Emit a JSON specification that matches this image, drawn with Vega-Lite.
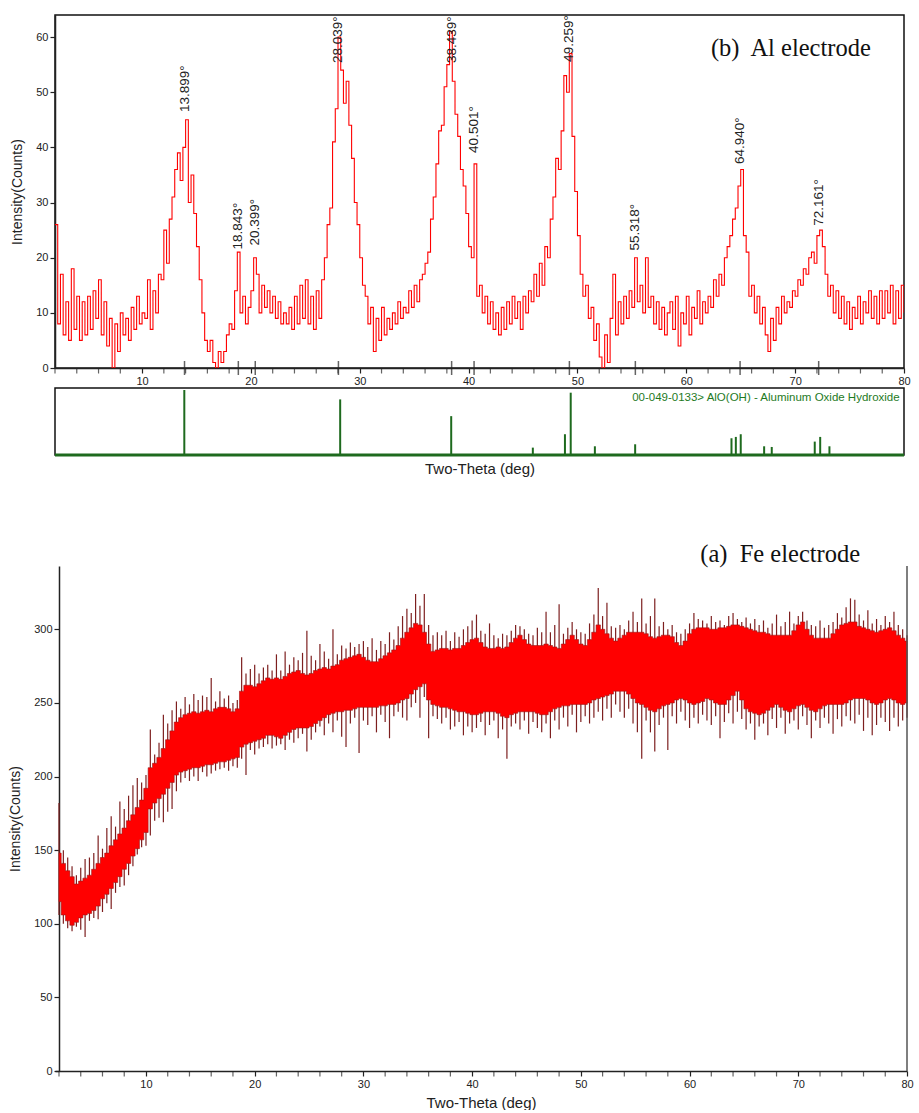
{
  "$schema": "https://vega.github.io/schema/vega-lite/v6.json",
  "background": "white",
  "padding": {"left": 8, "top": 14, "right": 0, "bottom": 0},
  "config": {
    "font": "Liberation Sans",
    "view": {"stroke": "#111", "strokeWidth": 1.5},
    "axis": {"labelFont": "Liberation Sans", "labelFontSize": 11, "labelColor": "#222", "tickColor": "#222", "domainColor": "#222", "titleFont": "Liberation Sans", "titleFontWeight": "normal", "titleColor": "#222", "grid": false, "tickSize": 5, "domainWidth": 1.5, "tickWidth": 1.2, "labelOverlap": false}
  },
  "datasets": {
    "minor_ticks": [
      {"deg":2},{"deg":4},{"deg":6},{"deg":8},{"deg":12},{"deg":14},{"deg":16},{"deg":18},{"deg":22},{"deg":24},{"deg":26},{"deg":28},{"deg":32},{"deg":34},{"deg":36},{"deg":38},
      {"deg":42},{"deg":44},{"deg":46},{"deg":48},{"deg":52},{"deg":54},{"deg":56},{"deg":58},{"deg":62},{"deg":64},{"deg":66},{"deg":68},{"deg":72},{"deg":74},{"deg":76},{"deg":78}
    ],
    "al": [
      {"deg":2.00,"counts":26},{"deg":2.25,"counts":8},{"deg":2.50,"counts":17},{"deg":2.75,"counts":6},{"deg":3.00,"counts":12},{"deg":3.25,"counts":5},{"deg":3.50,"counts":18},{"deg":3.75,"counts":7},
      {"deg":4.00,"counts":13},{"deg":4.25,"counts":5},{"deg":4.50,"counts":12},{"deg":4.75,"counts":6},{"deg":5.00,"counts":13},{"deg":5.25,"counts":7},{"deg":5.50,"counts":14},{"deg":5.75,"counts":9},
      {"deg":6.00,"counts":16},{"deg":6.25,"counts":6},{"deg":6.50,"counts":12},{"deg":6.75,"counts":4},{"deg":7.00,"counts":9},{"deg":7.25,"counts":0},{"deg":7.50,"counts":8},{"deg":7.75,"counts":3},
      {"deg":8.00,"counts":10},{"deg":8.25,"counts":6},{"deg":8.50,"counts":9},{"deg":8.75,"counts":5},{"deg":9.00,"counts":11},{"deg":9.25,"counts":7},{"deg":9.50,"counts":13},{"deg":9.75,"counts":8},
      {"deg":10.00,"counts":10},{"deg":10.25,"counts":9},{"deg":10.50,"counts":16},{"deg":10.75,"counts":7},{"deg":11.00,"counts":14},{"deg":11.25,"counts":10},{"deg":11.50,"counts":17},{"deg":11.75,"counts":16},
      {"deg":12.00,"counts":25},{"deg":12.25,"counts":19},{"deg":12.50,"counts":27},{"deg":12.75,"counts":31},{"deg":13.00,"counts":36},{"deg":13.25,"counts":39},{"deg":13.50,"counts":34},{"deg":13.75,"counts":40},
      {"deg":14.00,"counts":45},{"deg":14.25,"counts":30},{"deg":14.50,"counts":35},{"deg":14.75,"counts":28},{"deg":15.00,"counts":22},{"deg":15.25,"counts":16},{"deg":15.50,"counts":10},{"deg":15.75,"counts":5},
      {"deg":16.00,"counts":3},{"deg":16.25,"counts":5},{"deg":16.50,"counts":1},{"deg":16.75,"counts":0},{"deg":17.00,"counts":3},{"deg":17.25,"counts":1},{"deg":17.50,"counts":3},{"deg":17.75,"counts":6},
      {"deg":18.00,"counts":8},{"deg":18.25,"counts":7},{"deg":18.50,"counts":14},{"deg":18.75,"counts":21},{"deg":19.00,"counts":10},{"deg":19.25,"counts":13},{"deg":19.50,"counts":8},{"deg":19.75,"counts":11},
      {"deg":20.00,"counts":14},{"deg":20.25,"counts":20},{"deg":20.50,"counts":17},{"deg":20.75,"counts":10},{"deg":21.00,"counts":15},{"deg":21.25,"counts":11},{"deg":21.50,"counts":14},{"deg":21.75,"counts":10},
      {"deg":22.00,"counts":13},{"deg":22.25,"counts":9},{"deg":22.50,"counts":12},{"deg":22.75,"counts":8},{"deg":23.00,"counts":10},{"deg":23.25,"counts":8},{"deg":23.50,"counts":11},{"deg":23.75,"counts":7},
      {"deg":24.00,"counts":13},{"deg":24.25,"counts":8},{"deg":24.50,"counts":15},{"deg":24.75,"counts":9},{"deg":25.00,"counts":16},{"deg":25.25,"counts":8},{"deg":25.50,"counts":13},{"deg":25.75,"counts":7},
      {"deg":26.00,"counts":14},{"deg":26.25,"counts":9},{"deg":26.50,"counts":16},{"deg":26.75,"counts":20},{"deg":27.00,"counts":26},{"deg":27.25,"counts":29},{"deg":27.50,"counts":41},{"deg":27.75,"counts":47},
      {"deg":28.00,"counts":60},{"deg":28.25,"counts":54},{"deg":28.50,"counts":48},{"deg":28.75,"counts":52},{"deg":29.00,"counts":44},{"deg":29.25,"counts":38},{"deg":29.50,"counts":30},{"deg":29.75,"counts":26},
      {"deg":30.00,"counts":20},{"deg":30.25,"counts":15},{"deg":30.50,"counts":13},{"deg":30.75,"counts":8},{"deg":31.00,"counts":11},{"deg":31.25,"counts":3},{"deg":31.50,"counts":9},{"deg":31.75,"counts":5},
      {"deg":32.00,"counts":11},{"deg":32.25,"counts":6},{"deg":32.50,"counts":9},{"deg":32.75,"counts":7},{"deg":33.00,"counts":10},{"deg":33.25,"counts":8},{"deg":33.50,"counts":12},{"deg":33.75,"counts":9},
      {"deg":34.00,"counts":11},{"deg":34.25,"counts":10},{"deg":34.50,"counts":14},{"deg":34.75,"counts":11},{"deg":35.00,"counts":15},{"deg":35.25,"counts":12},{"deg":35.50,"counts":16},{"deg":35.75,"counts":17},
      {"deg":36.00,"counts":19},{"deg":36.25,"counts":21},{"deg":36.50,"counts":27},{"deg":36.75,"counts":31},{"deg":37.00,"counts":37},{"deg":37.25,"counts":43},{"deg":37.50,"counts":44},{"deg":37.75,"counts":51},
      {"deg":38.00,"counts":55},{"deg":38.25,"counts":61},{"deg":38.50,"counts":52},{"deg":38.75,"counts":46},{"deg":39.00,"counts":42},{"deg":39.25,"counts":36},{"deg":39.50,"counts":33},{"deg":39.75,"counts":28},
      {"deg":40.00,"counts":22},{"deg":40.25,"counts":20},{"deg":40.50,"counts":37},{"deg":40.75,"counts":13},{"deg":41.00,"counts":15},{"deg":41.25,"counts":10},{"deg":41.50,"counts":13},{"deg":41.75,"counts":8},
      {"deg":42.00,"counts":12},{"deg":42.25,"counts":7},{"deg":42.50,"counts":10},{"deg":42.75,"counts":6},{"deg":43.00,"counts":11},{"deg":43.25,"counts":7},{"deg":43.50,"counts":12},{"deg":43.75,"counts":8},
      {"deg":44.00,"counts":13},{"deg":44.25,"counts":9},{"deg":44.50,"counts":12},{"deg":44.75,"counts":7},{"deg":45.00,"counts":13},{"deg":45.25,"counts":10},{"deg":45.50,"counts":14},{"deg":45.75,"counts":12},
      {"deg":46.00,"counts":17},{"deg":46.25,"counts":13},{"deg":46.50,"counts":19},{"deg":46.75,"counts":15},{"deg":47.00,"counts":22},{"deg":47.25,"counts":20},{"deg":47.50,"counts":27},{"deg":47.75,"counts":31},
      {"deg":48.00,"counts":38},{"deg":48.25,"counts":36},{"deg":48.50,"counts":43},{"deg":48.75,"counts":53},{"deg":49.00,"counts":50},{"deg":49.25,"counts":57},{"deg":49.50,"counts":42},{"deg":49.75,"counts":32},
      {"deg":50.00,"counts":24},{"deg":50.25,"counts":17},{"deg":50.50,"counts":13},{"deg":50.75,"counts":15},{"deg":51.00,"counts":9},{"deg":51.25,"counts":11},{"deg":51.50,"counts":5},{"deg":51.75,"counts":8},
      {"deg":52.00,"counts":2},{"deg":52.25,"counts":0},{"deg":52.50,"counts":6},{"deg":52.75,"counts":1},{"deg":53.00,"counts":9},{"deg":53.25,"counts":17},{"deg":53.50,"counts":6},{"deg":53.75,"counts":12},
      {"deg":54.00,"counts":8},{"deg":54.25,"counts":13},{"deg":54.50,"counts":9},{"deg":54.75,"counts":14},{"deg":55.00,"counts":11},{"deg":55.25,"counts":20},{"deg":55.50,"counts":12},{"deg":55.75,"counts":15},
      {"deg":56.00,"counts":10},{"deg":56.25,"counts":20},{"deg":56.50,"counts":11},{"deg":56.75,"counts":13},{"deg":57.00,"counts":8},{"deg":57.25,"counts":12},{"deg":57.50,"counts":7},{"deg":57.75,"counts":11},
      {"deg":58.00,"counts":6},{"deg":58.25,"counts":10},{"deg":58.50,"counts":12},{"deg":58.75,"counts":7},{"deg":59.00,"counts":13},{"deg":59.25,"counts":4},{"deg":59.50,"counts":10},{"deg":59.75,"counts":8},
      {"deg":60.00,"counts":13},{"deg":60.25,"counts":6},{"deg":60.50,"counts":11},{"deg":60.75,"counts":9},{"deg":61.00,"counts":14},{"deg":61.25,"counts":8},{"deg":61.50,"counts":12},{"deg":61.75,"counts":10},
      {"deg":62.00,"counts":13},{"deg":62.25,"counts":11},{"deg":62.50,"counts":16},{"deg":62.75,"counts":13},{"deg":63.00,"counts":17},{"deg":63.25,"counts":15},{"deg":63.50,"counts":20},{"deg":63.75,"counts":22},
      {"deg":64.00,"counts":24},{"deg":64.25,"counts":27},{"deg":64.50,"counts":29},{"deg":64.75,"counts":33},{"deg":65.00,"counts":36},{"deg":65.25,"counts":24},{"deg":65.50,"counts":21},{"deg":65.75,"counts":13},
      {"deg":66.00,"counts":15},{"deg":66.25,"counts":10},{"deg":66.50,"counts":13},{"deg":66.75,"counts":8},{"deg":67.00,"counts":11},{"deg":67.25,"counts":6},{"deg":67.50,"counts":3},{"deg":67.75,"counts":9},
      {"deg":68.00,"counts":5},{"deg":68.25,"counts":11},{"deg":68.50,"counts":8},{"deg":68.75,"counts":13},{"deg":69.00,"counts":10},{"deg":69.25,"counts":12},{"deg":69.50,"counts":11},{"deg":69.75,"counts":14},
      {"deg":70.00,"counts":13},{"deg":70.25,"counts":16},{"deg":70.50,"counts":15},{"deg":70.75,"counts":18},{"deg":71.00,"counts":17},{"deg":71.25,"counts":20},{"deg":71.50,"counts":21},{"deg":71.75,"counts":19},
      {"deg":72.00,"counts":24},{"deg":72.25,"counts":25},{"deg":72.50,"counts":22},{"deg":72.75,"counts":17},{"deg":73.00,"counts":13},{"deg":73.25,"counts":15},{"deg":73.50,"counts":10},{"deg":73.75,"counts":14},
      {"deg":74.00,"counts":9},{"deg":74.25,"counts":13},{"deg":74.50,"counts":8},{"deg":74.75,"counts":12},{"deg":75.00,"counts":7},{"deg":75.25,"counts":11},{"deg":75.50,"counts":9},{"deg":75.75,"counts":13},
      {"deg":76.00,"counts":8},{"deg":76.25,"counts":12},{"deg":76.50,"counts":10},{"deg":76.75,"counts":14},{"deg":77.00,"counts":9},{"deg":77.25,"counts":13},{"deg":77.50,"counts":8},{"deg":77.75,"counts":14},
      {"deg":78.00,"counts":9},{"deg":78.25,"counts":14},{"deg":78.50,"counts":10},{"deg":78.75,"counts":15},{"deg":79.00,"counts":8},{"deg":79.25,"counts":14},{"deg":79.50,"counts":9},{"deg":79.75,"counts":15},
      {"deg":80.00,"counts":10}
    ],
    "al_peaks": [
      {"deg":13.899,"label":"13.899°","label_counts":46.4},
      {"deg":18.843,"label":"18.843°","label_counts":21.5},
      {"deg":20.399,"label":"20.399°","label_counts":22.2},
      {"deg":28.039,"label":"28.039°","label_counts":55.3},
      {"deg":38.439,"label":"38.439°","label_counts":55.3},
      {"deg":40.501,"label":"40.501°","label_counts":39},
      {"deg":49.259,"label":"49.259°","label_counts":55.5},
      {"deg":55.318,"label":"55.318°","label_counts":21.3},
      {"deg":64.940,"label":"64.940°","label_counts":37},
      {"deg":72.161,"label":"72.161°","label_counts":25.8}
    ],
    "ref": [
      {"deg":13.88,"rel_intensity":97},{"deg":28.2,"rel_intensity":83},{"deg":38.4,"rel_intensity":58},{"deg":45.9,"rel_intensity":11},
      {"deg":48.85,"rel_intensity":31},{"deg":49.38,"rel_intensity":93},{"deg":51.6,"rel_intensity":13},{"deg":55.3,"rel_intensity":16},
      {"deg":64.15,"rel_intensity":25},{"deg":64.55,"rel_intensity":27},{"deg":65.0,"rel_intensity":31},{"deg":67.15,"rel_intensity":13},
      {"deg":67.85,"rel_intensity":12},{"deg":71.8,"rel_intensity":20},{"deg":72.3,"rel_intensity":27},{"deg":73.15,"rel_intensity":13}
    ],
    "fe": [
      {"deg":2.0,"lo":115,"hi":148,"min":106,"max":182},{"deg":2.4,"lo":106,"hi":141,"min":100,"max":150},{"deg":2.8,"lo":102,"hi":136,"min":97,"max":145},{"deg":3.2,"lo":99,"hi":132,"min":95,"max":139},
      {"deg":3.6,"lo":101,"hi":127,"min":98,"max":133},{"deg":4.0,"lo":104,"hi":129,"min":96,"max":138},{"deg":4.4,"lo":106,"hi":131,"min":91,"max":144},{"deg":4.8,"lo":107,"hi":133,"min":102,"max":145},
      {"deg":5.2,"lo":109,"hi":137,"min":104,"max":148},{"deg":5.6,"lo":112,"hi":141,"min":103,"max":160},{"deg":6.0,"lo":117,"hi":145,"min":108,"max":151},{"deg":6.4,"lo":120,"hi":148,"min":114,"max":165},
      {"deg":6.8,"lo":124,"hi":153,"min":110,"max":173},{"deg":7.2,"lo":128,"hi":157,"min":121,"max":166},{"deg":7.6,"lo":132,"hi":161,"min":125,"max":183},{"deg":8.0,"lo":137,"hi":165,"min":126,"max":178},
      {"deg":8.4,"lo":141,"hi":170,"min":133,"max":187},{"deg":8.8,"lo":146,"hi":174,"min":139,"max":194},{"deg":9.2,"lo":151,"hi":179,"min":147,"max":199},{"deg":9.6,"lo":157,"hi":184,"min":152,"max":196},
      {"deg":10.0,"lo":162,"hi":192,"min":153,"max":201},{"deg":10.4,"lo":178,"hi":206,"min":160,"max":232},{"deg":10.8,"lo":182,"hi":209,"min":170,"max":215},{"deg":11.2,"lo":185,"hi":213,"min":172,"max":223},
      {"deg":11.6,"lo":188,"hi":219,"min":169,"max":242},{"deg":12.0,"lo":192,"hi":225,"min":176,"max":236},{"deg":12.4,"lo":196,"hi":231,"min":178,"max":245},{"deg":12.8,"lo":201,"hi":237,"min":190,"max":251},
      {"deg":13.2,"lo":203,"hi":240,"min":196,"max":246},{"deg":13.6,"lo":204,"hi":242,"min":199,"max":254},{"deg":14.0,"lo":205,"hi":243,"min":197,"max":249},{"deg":14.4,"lo":206,"hi":244,"min":200,"max":256},
      {"deg":14.8,"lo":206,"hi":243,"min":197,"max":252},{"deg":15.2,"lo":207,"hi":244,"min":203,"max":255},{"deg":15.6,"lo":208,"hi":245,"min":200,"max":254},{"deg":16.0,"lo":208,"hi":244,"min":202,"max":267},
      {"deg":16.4,"lo":209,"hi":246,"min":204,"max":251},{"deg":16.8,"lo":210,"hi":247,"min":205,"max":258},{"deg":17.2,"lo":210,"hi":247,"min":206,"max":253},{"deg":17.6,"lo":211,"hi":246,"min":204,"max":255},
      {"deg":18.0,"lo":212,"hi":244,"min":207,"max":250},{"deg":18.4,"lo":213,"hi":246,"min":206,"max":252},{"deg":18.8,"lo":220,"hi":258,"min":212,"max":281},{"deg":19.2,"lo":222,"hi":262,"min":201,"max":270},
      {"deg":19.6,"lo":223,"hi":262,"min":218,"max":273},{"deg":20.0,"lo":224,"hi":261,"min":215,"max":276},{"deg":20.4,"lo":225,"hi":263,"min":219,"max":270},{"deg":20.8,"lo":226,"hi":265,"min":220,"max":274},
      {"deg":21.2,"lo":228,"hi":267,"min":222,"max":276},{"deg":21.6,"lo":228,"hi":266,"min":219,"max":272},{"deg":22.0,"lo":227,"hi":267,"min":221,"max":283},{"deg":22.4,"lo":226,"hi":266,"min":222,"max":272},
      {"deg":22.8,"lo":228,"hi":268,"min":218,"max":285},{"deg":23.2,"lo":230,"hi":270,"min":225,"max":276},{"deg":23.6,"lo":232,"hi":271,"min":223,"max":281},{"deg":24.0,"lo":233,"hi":272,"min":226,"max":279},
      {"deg":24.4,"lo":233,"hi":270,"min":229,"max":284},{"deg":24.8,"lo":233,"hi":269,"min":217,"max":299},{"deg":25.2,"lo":234,"hi":270,"min":225,"max":282},{"deg":25.6,"lo":236,"hi":272,"min":230,"max":279},
      {"deg":26.0,"lo":238,"hi":273,"min":234,"max":290},{"deg":26.4,"lo":240,"hi":274,"min":228,"max":285},{"deg":26.8,"lo":242,"hi":273,"min":236,"max":280},{"deg":27.2,"lo":243,"hi":275,"min":230,"max":300},
      {"deg":27.6,"lo":244,"hi":276,"min":238,"max":283},{"deg":28.0,"lo":244,"hi":279,"min":227,"max":289},{"deg":28.4,"lo":245,"hi":280,"min":220,"max":287},{"deg":28.8,"lo":245,"hi":281,"min":236,"max":291},
      {"deg":29.2,"lo":246,"hi":282,"min":240,"max":288},{"deg":29.6,"lo":247,"hi":283,"min":216,"max":290},{"deg":30.0,"lo":247,"hi":281,"min":238,"max":292},{"deg":30.4,"lo":247,"hi":279,"min":235,"max":288},
      {"deg":30.8,"lo":247,"hi":278,"min":241,"max":294},{"deg":31.2,"lo":247,"hi":278,"min":230,"max":286},{"deg":31.6,"lo":248,"hi":280,"min":242,"max":292},{"deg":32.0,"lo":248,"hi":282,"min":237,"max":290},
      {"deg":32.4,"lo":249,"hi":284,"min":226,"max":298},{"deg":32.8,"lo":249,"hi":286,"min":241,"max":293},{"deg":33.2,"lo":250,"hi":289,"min":244,"max":302},{"deg":33.6,"lo":252,"hi":294,"min":240,"max":309},
      {"deg":34.0,"lo":253,"hi":298,"min":238,"max":314},{"deg":34.4,"lo":256,"hi":301,"min":247,"max":311},{"deg":34.8,"lo":259,"hi":304,"min":250,"max":324},{"deg":35.2,"lo":261,"hi":303,"min":240,"max":316},
      {"deg":35.6,"lo":263,"hi":298,"min":254,"max":324},{"deg":36.0,"lo":252,"hi":290,"min":226,"max":303},{"deg":36.4,"lo":249,"hi":285,"min":241,"max":296},{"deg":36.8,"lo":248,"hi":286,"min":239,"max":298},
      {"deg":37.2,"lo":247,"hi":287,"min":236,"max":296},{"deg":37.6,"lo":247,"hi":287,"min":240,"max":299},{"deg":38.0,"lo":246,"hi":286,"min":232,"max":292},{"deg":38.4,"lo":245,"hi":287,"min":234,"max":298},
      {"deg":38.8,"lo":244,"hi":287,"min":237,"max":295},{"deg":39.2,"lo":244,"hi":289,"min":228,"max":300},{"deg":39.6,"lo":243,"hi":291,"min":234,"max":302},{"deg":40.0,"lo":242,"hi":293,"min":230,"max":306},
      {"deg":40.4,"lo":242,"hi":294,"min":233,"max":310},{"deg":40.8,"lo":243,"hi":291,"min":237,"max":299},{"deg":41.2,"lo":244,"hi":288,"min":228,"max":297},{"deg":41.6,"lo":244,"hi":287,"min":235,"max":304},
      {"deg":42.0,"lo":244,"hi":287,"min":238,"max":296},{"deg":42.4,"lo":243,"hi":288,"min":226,"max":294},{"deg":42.8,"lo":241,"hi":287,"min":232,"max":297},{"deg":43.2,"lo":240,"hi":288,"min":212,"max":296},
      {"deg":43.6,"lo":242,"hi":291,"min":234,"max":299},{"deg":44.0,"lo":243,"hi":294,"min":236,"max":303},{"deg":44.4,"lo":244,"hi":296,"min":232,"max":302},{"deg":44.8,"lo":244,"hi":293,"min":238,"max":300},
      {"deg":45.2,"lo":244,"hi":290,"min":229,"max":297},{"deg":45.6,"lo":244,"hi":289,"min":237,"max":296},{"deg":46.0,"lo":243,"hi":289,"min":233,"max":301},{"deg":46.4,"lo":242,"hi":289,"min":230,"max":298},
      {"deg":46.8,"lo":242,"hi":290,"min":236,"max":312},{"deg":47.2,"lo":244,"hi":289,"min":226,"max":298},{"deg":47.6,"lo":246,"hi":288,"min":238,"max":303},{"deg":48.0,"lo":247,"hi":287,"min":232,"max":317},
      {"deg":48.4,"lo":248,"hi":290,"min":240,"max":297},{"deg":48.8,"lo":248,"hi":293,"min":234,"max":301},{"deg":49.2,"lo":249,"hi":296,"min":242,"max":305},{"deg":49.6,"lo":249,"hi":293,"min":230,"max":300},
      {"deg":50.0,"lo":249,"hi":290,"min":237,"max":298},{"deg":50.4,"lo":249,"hi":289,"min":241,"max":297},{"deg":50.8,"lo":250,"hi":293,"min":236,"max":304},{"deg":51.2,"lo":252,"hi":298,"min":240,"max":310},
      {"deg":51.6,"lo":253,"hi":303,"min":244,"max":328},{"deg":52.0,"lo":254,"hi":300,"min":238,"max":309},{"deg":52.4,"lo":255,"hi":297,"min":246,"max":318},{"deg":52.8,"lo":256,"hi":294,"min":240,"max":302},
      {"deg":53.2,"lo":258,"hi":292,"min":249,"max":301},{"deg":53.6,"lo":258,"hi":294,"min":244,"max":303},{"deg":54.0,"lo":258,"hi":296,"min":240,"max":300},{"deg":54.4,"lo":256,"hi":298,"min":246,"max":306},
      {"deg":54.8,"lo":253,"hi":298,"min":236,"max":312},{"deg":55.2,"lo":250,"hi":298,"min":230,"max":305},{"deg":55.6,"lo":249,"hi":298,"min":212,"max":321},{"deg":56.0,"lo":247,"hi":297,"min":238,"max":304},
      {"deg":56.4,"lo":245,"hi":295,"min":230,"max":309},{"deg":56.8,"lo":244,"hi":294,"min":217,"max":321},{"deg":57.2,"lo":246,"hi":295,"min":235,"max":302},{"deg":57.6,"lo":248,"hi":296,"min":240,"max":305},
      {"deg":58.0,"lo":249,"hi":296,"min":218,"max":300},{"deg":58.4,"lo":250,"hi":295,"min":241,"max":303},{"deg":58.8,"lo":252,"hi":291,"min":236,"max":298},{"deg":59.2,"lo":253,"hi":289,"min":244,"max":297},
      {"deg":59.6,"lo":252,"hi":292,"min":238,"max":300},{"deg":60.0,"lo":250,"hi":297,"min":233,"max":304},{"deg":60.4,"lo":249,"hi":300,"min":240,"max":311},{"deg":60.8,"lo":250,"hi":301,"min":236,"max":307},
      {"deg":61.2,"lo":251,"hi":301,"min":242,"max":306},{"deg":61.6,"lo":253,"hi":301,"min":238,"max":304},{"deg":62.0,"lo":252,"hi":300,"min":235,"max":309},{"deg":62.4,"lo":250,"hi":300,"min":241,"max":305},
      {"deg":62.8,"lo":249,"hi":301,"min":226,"max":306},{"deg":63.2,"lo":249,"hi":301,"min":237,"max":303},{"deg":63.6,"lo":252,"hi":302,"min":243,"max":309},{"deg":64.0,"lo":255,"hi":303,"min":236,"max":311},
      {"deg":64.4,"lo":258,"hi":303,"min":244,"max":307},{"deg":64.8,"lo":252,"hi":302,"min":239,"max":305},{"deg":65.2,"lo":246,"hi":301,"min":232,"max":308},{"deg":65.6,"lo":244,"hi":300,"min":236,"max":304},
      {"deg":66.0,"lo":243,"hi":299,"min":225,"max":307},{"deg":66.4,"lo":242,"hi":298,"min":234,"max":303},{"deg":66.8,"lo":243,"hi":298,"min":236,"max":306},{"deg":67.2,"lo":245,"hi":297,"min":228,"max":301},
      {"deg":67.6,"lo":247,"hi":296,"min":239,"max":304},{"deg":68.0,"lo":249,"hi":296,"min":233,"max":310},{"deg":68.4,"lo":247,"hi":296,"min":240,"max":302},{"deg":68.8,"lo":245,"hi":296,"min":229,"max":305},
      {"deg":69.2,"lo":244,"hi":296,"min":236,"max":312},{"deg":69.6,"lo":246,"hi":299,"min":238,"max":304},{"deg":70.0,"lo":248,"hi":303,"min":232,"max":309},{"deg":70.4,"lo":249,"hi":305,"min":241,"max":312},
      {"deg":70.8,"lo":247,"hi":300,"min":235,"max":306},{"deg":71.2,"lo":245,"hi":296,"min":226,"max":303},{"deg":71.6,"lo":244,"hi":294,"min":238,"max":302},{"deg":72.0,"lo":246,"hi":294,"min":233,"max":306},
      {"deg":72.4,"lo":248,"hi":294,"min":240,"max":301},{"deg":72.8,"lo":249,"hi":294,"min":236,"max":303},{"deg":73.2,"lo":249,"hi":297,"min":229,"max":305},{"deg":73.6,"lo":249,"hi":300,"min":239,"max":311},
      {"deg":74.0,"lo":249,"hi":303,"min":234,"max":308},{"deg":74.4,"lo":250,"hi":304,"min":241,"max":315},{"deg":74.8,"lo":252,"hi":305,"min":238,"max":321},{"deg":75.2,"lo":253,"hi":305,"min":236,"max":320},
      {"deg":75.6,"lo":253,"hi":302,"min":242,"max":310},{"deg":76.0,"lo":253,"hi":301,"min":231,"max":306},{"deg":76.4,"lo":252,"hi":300,"min":240,"max":313},{"deg":76.8,"lo":250,"hi":299,"min":228,"max":304},
      {"deg":77.2,"lo":249,"hi":298,"min":235,"max":307},{"deg":77.6,"lo":250,"hi":299,"min":240,"max":303},{"deg":78.0,"lo":252,"hi":300,"min":237,"max":309},{"deg":78.4,"lo":253,"hi":301,"min":231,"max":305},
      {"deg":78.8,"lo":252,"hi":299,"min":240,"max":312},{"deg":79.2,"lo":250,"hi":296,"min":234,"max":303},{"deg":79.6,"lo":249,"hi":294,"min":238,"max":300},{"deg":80.0,"lo":250,"hi":292,"min":240,"max":296}
    ]
  },
  "spacing": 64,
  "vconcat": [
    {
      "spacing": 0,
      "vconcat": [
        {
          "width": 849,
          "height": 353,
          "layer": [
            {
              "data": {"name": "al"},
              "mark": {"type": "line", "interpolate": "step-after", "color": "#ff0000", "strokeWidth": 1.1, "clip": true},
              "encoding": {
                "x": {"field": "deg", "type": "quantitative", "scale": {"domain": [2, 80], "nice": false, "zero": false},
                  "axis": {"title": null, "values": [10,20,30,40,50,60,70,80], "labelPadding": 2, "labelFlush": false, "labelOverlap": false}},
                "y": {"field": "counts", "type": "quantitative", "scale": {"domain": [0, 64], "nice": false},
                  "axis": {"title": "Intensity(Counts)", "values": [0,10,20,30,40,50,60], "titleFontSize": 14, "titlePadding": 11, "labelPadding": 2}}
              }
            },
            {
              "data": {"name": "minor_ticks"},
              "mark": {"type": "tick", "orient": "vertical", "size": 5, "thickness": 1.2, "color": "#222", "yOffset": 3},
              "encoding": {
                "x": {"field": "deg", "type": "quantitative"},
                "y": {"datum": 0, "type": "quantitative"}
              }
            },
            {
              "data": {"name": "al_peaks"},
              "mark": {"type": "text", "angle": 270, "align": "left", "baseline": "middle", "fontSize": 13.5, "color": "#222", "clip": true},
              "encoding": {
                "x": {"field": "deg", "type": "quantitative"},
                "y": {"field": "label_counts", "type": "quantitative"},
                "text": {"field": "label"}
              }
            },
            {
              "data": {"name": "al_peaks"},
              "mark": {"type": "tick", "orient": "vertical", "size": 14, "thickness": 1.5, "color": "#222"},
              "encoding": {
                "x": {"field": "deg", "type": "quantitative"},
                "y": {"datum": 0, "type": "quantitative"}
              }
            },
            {
              "data": {"values": [{"panel": "(b)\u00a0 Al electrode"}]},
              "mark": {"type": "text", "align": "right", "baseline": "middle", "font": "Liberation Serif", "fontSize": 24.5, "color": "#111"},
              "encoding": {
                "x": {"datum": 76.95, "type": "quantitative"},
                "y": {"datum": 57.8, "type": "quantitative"},
                "text": {"field": "panel"}
              }
            }
          ]
        },
        {
          "width": 849,
          "height": 67,
          "layer": [
            {
              "data": {"name": "ref"},
              "mark": {"type": "rule", "color": "#1e6a1e", "strokeWidth": 2},
              "encoding": {
                "x": {"field": "deg", "type": "quantitative", "scale": {"domain": [2, 80], "nice": false, "zero": false},
                  "axis": {"title": "Two-Theta (deg)", "labels": false, "ticks": false, "domain": false, "titleFontSize": 15, "titlePadding": 6}},
                "y": {"field": "rel_intensity", "type": "quantitative", "scale": {"domain": [0, 100], "nice": false}, "axis": null},
                "y2": {"datum": 0}
              }
            },
            {
              "data": {"values": [{"start": 2, "end": 80, "level": 0}]},
              "mark": {"type": "rule", "color": "#1e6a1e", "strokeWidth": 3},
              "encoding": {
                "x": {"field": "start", "type": "quantitative"},
                "x2": {"field": "end"},
                "y": {"field": "level", "type": "quantitative"}
              }
            },
            {
              "data": {"values": [{"card": "00-049-0133> AlO(OH) - Aluminum Oxide Hydroxide"}]},
              "mark": {"type": "text", "align": "right", "baseline": "middle", "fontSize": 11.5, "color": "#1e7a1e"},
              "encoding": {
                "x": {"datum": 79.6, "type": "quantitative"},
                "y": {"datum": 85, "type": "quantitative"},
                "text": {"field": "card"}
              }
            }
          ]
        }
      ]
    },
    {
      "width": 852,
      "height": 505,
      "view": {"stroke": null},
      "title": {"text": "(a)\u00a0 Fe electrode", "anchor": "end", "dx": -53, "font": "Liberation Serif", "fontSize": 24.5, "fontWeight": "normal", "color": "#111", "offset": -2},
      "layer": [
        {
          "data": {"name": "fe"},
          "mark": {"type": "rule", "color": "#7d1f1f", "strokeWidth": 1.2},
          "encoding": {
            "x": {"field": "deg", "type": "quantitative", "scale": {"domain": [1.632, 80], "nice": false, "zero": false},
              "axis": {"title": "Two-Theta (deg)", "titleFontSize": 15, "titlePadding": 6, "values": [10,20,30,40,50,60,70,80], "labelPadding": 2, "labelFlush": false, "labelOverlap": false}},
            "y": {"field": "min", "type": "quantitative", "scale": {"domain": [0, 343], "nice": false},
              "axis": {"title": "Intensity(Counts)", "values": [0,50,100,150,200,250,300], "offset": -4, "titleFontSize": 14, "titlePadding": 11, "labelPadding": 2}},
            "y2": {"field": "max"}
          }
        },
        {
          "data": {"name": "minor_ticks"},
          "mark": {"type": "tick", "orient": "vertical", "size": 5, "thickness": 1.2, "color": "#222", "yOffset": 3},
          "encoding": {
            "x": {"field": "deg", "type": "quantitative"},
            "y": {"datum": 0, "type": "quantitative"}
          }
        },
        {
          "data": {"name": "fe"},
          "mark": {"type": "area", "interpolate": "step", "color": "#ff0000", "stroke": "#a01414", "strokeWidth": 0.6},
          "encoding": {
            "x": {"field": "deg", "type": "quantitative"},
            "y": {"field": "lo", "type": "quantitative"},
            "y2": {"field": "hi"}
          }
        },
        {
          "data": {"values": [{"edge": 80, "bottom": 0, "top": 343}]},
          "mark": {"type": "rule", "color": "#555", "strokeWidth": 1.5},
          "encoding": {
            "x": {"field": "edge", "type": "quantitative"},
            "y": {"field": "bottom", "type": "quantitative"},
            "y2": {"field": "top"}
          }
        }
      ]
    }
  ]
}
